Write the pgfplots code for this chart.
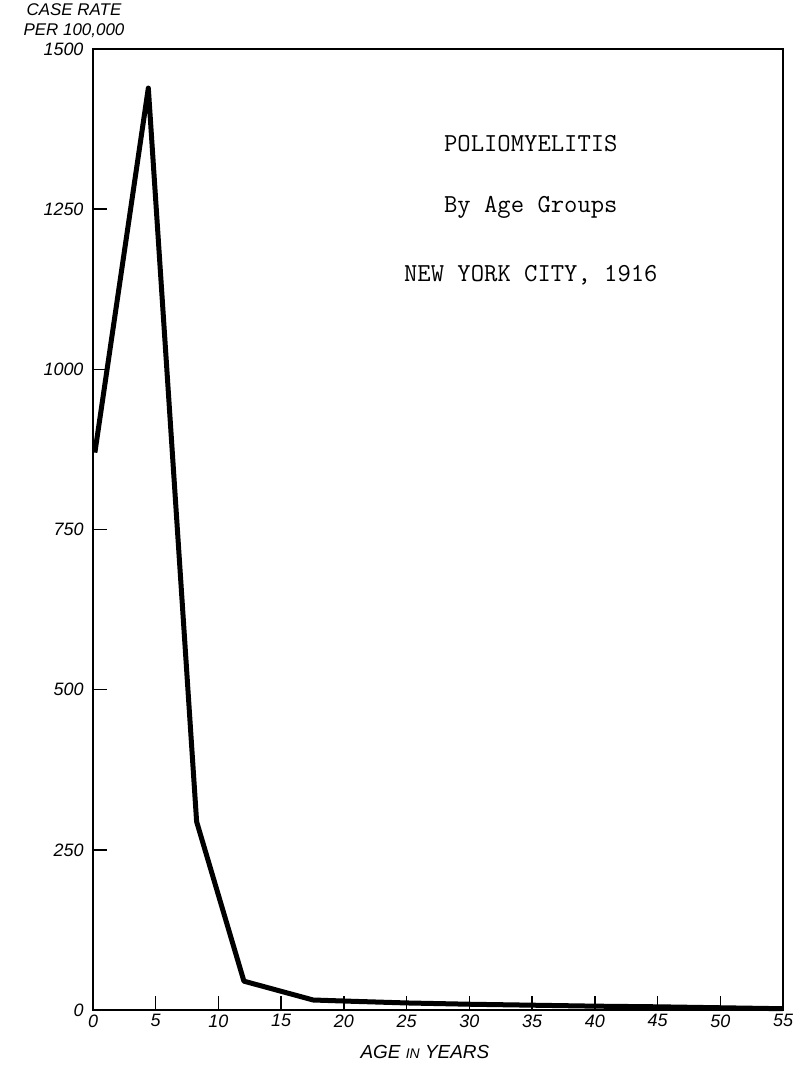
\documentclass[border=0pt]{standalone}
\usepackage{fontspec}
\setsansfont{Liberation Sans}
\usepackage{pgfplots}
\pgfplotsset{compat=1.18}
\begin{document}
\begin{tikzpicture}
\begin{axis}[
  scale only axis,
  width=690bp, height=961bp,
  xmin=0, xmax=55, ymin=0, ymax=1500,
  axis line style={line width=1.4bp},
  tick style={line width=1.4bp, black},
  major tick length=14bp,
  tick align=inside,
  xtick pos=bottom, ytick pos=left,
  xtick={0,5,...,55},
  xticklabels={0,5,10,15,20,25,30,35,40,45,50,55},
  ytick={0,250,500,750,1000,1250,1500},
  yticklabels={0,250,500,750,1000,1250,1500},
  ticklabel style={font=\fontsize{18}{20}\selectfont\sffamily\itshape},
  xticklabel style={yshift=-1bp},
  yticklabel style={xshift=-6bp},
  clip=false,
]
\addplot[black, line width=5bp, line join=round] coordinates {
  (0.15,870) (4.41,1439) (8.26,294) (12.03,45) (17.55,15.6)
  (20,14) (25,11) (30,9) (35,7.5) (40,6) (45,5) (50,3.5) (55,2)
};
\node[font=\fontsize{26}{28}\selectfont\ttfamily] at (axis cs:34.9,1352) {POLIOMYELITIS};
\node[font=\fontsize{26}{28}\selectfont\ttfamily] at (axis cs:34.9,1253) {By Age Groups};
\node[font=\fontsize{26}{28}\selectfont\ttfamily] at (axis cs:34.9,1147) {NEW YORK CITY, 1916};
\node[font=\fontsize{17}{19}\selectfont\sffamily\itshape, align=center, anchor=south, inner sep=0pt]
  at ([xshift=-19bp,yshift=11bp]axis description cs:0,1) {CASE RATE\\[1bp]PER 100,000};
\node[font=\fontsize{19}{21}\selectfont\sffamily\itshape, anchor=center]
  at ([yshift=-42bp]axis description cs:0.481,0) {AGE {\fontsize{14}{16}\selectfont IN} YEARS};
\end{axis}
\pgfresetboundingbox
\path[use as bounding box] (-93bp,-56bp) rectangle (701bp,1010bp);
\end{tikzpicture}
\end{document}
